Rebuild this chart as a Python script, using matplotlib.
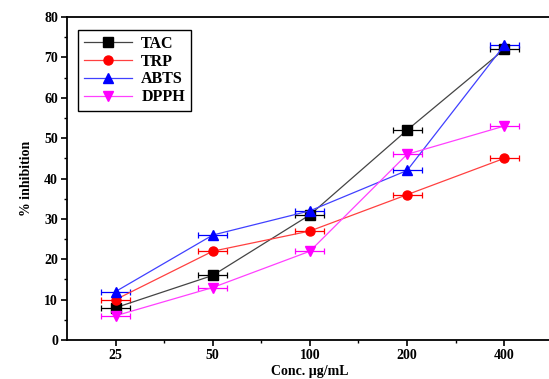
import matplotlib
matplotlib.use("Agg")
import matplotlib.pyplot as plt
from matplotlib.ticker import MultipleLocator, FixedLocator
from matplotlib.lines import Line2D

conc_labels = ["25", "50", "100", "200", "400"]
tac = [8, 16, 31, 52, 72]
trp = [10, 22, 27, 36, 45]
abts = [12, 26, 32, 42, 73]
dpph = [6, 13, 22, 46, 53]
xerr = 0.15

plt.rcParams['font.family'] = ['Liberation Serif', 'DejaVu Serif']
plt.rcParams['font.weight'] = 'bold'

fig = plt.figure(figsize=(5.49, 3.79), dpi=100)
ax = fig.add_axes([0.122, 0.1029, 0.885, 0.852])

x = list(range(1, len(conc_labels) + 1))
series = [
    ("TAC", tac, "#444444", "black", "s"),
    ("TRP", trp, "#ff4040", "red", "o"),
    ("ABTS", abts, "#4040ff", "blue", "^"),
    ("DPPH", dpph, "#ff40ff", "magenta", "v"),
]
handles = []
for name, vals, lc, mc, m in series:
    ax.errorbar(x, vals, xerr=xerr, color=lc, lw=0.9, marker=m, ms=6.5,
                mfc=mc, mec=mc, ecolor=mc, elinewidth=0.9, capsize=2.5,
                capthick=0.9)
    handles.append(Line2D([], [], color=lc, lw=0.9, marker=m, ms=6.5,
                          mfc=mc, mec=mc, label=name))

ax.set_xlim(0.5, 5.5)
ax.set_ylim(0, 80)
ax.xaxis.set_major_locator(FixedLocator(x))
ax.set_xticklabels(conc_labels)
ax.xaxis.set_minor_locator(FixedLocator([1.5, 2.5, 3.5, 4.5]))
ax.yaxis.set_major_locator(MultipleLocator(10))
ax.yaxis.set_minor_locator(MultipleLocator(5))
ax.tick_params(axis='both', which='major', direction='out', length=4, width=1.2,
               labelsize=10, pad=2.5)
ax.tick_params(axis='both', which='minor', direction='out', length=2.5, width=1.0)
for lab in ax.get_xticklabels() + ax.get_yticklabels():
    lab.set_fontweight('bold')
for sp in ax.spines.values():
    sp.set_linewidth(1.3)

ax.set_xlabel("Conc. µg/mL", fontsize=10, fontweight='bold', labelpad=2)
ax.set_ylabel("% inhibition", fontsize=10, fontweight='bold', labelpad=8)

leg = ax.legend(handles=handles, loc='upper left', bbox_to_anchor=(0.023, 0.96),
                borderaxespad=0,
                fancybox=False, edgecolor='black', framealpha=1,
                prop={'weight': 'bold', 'size': 11.5},
                handlelength=3.0, labelspacing=0.12, borderpad=0.35,
                handletextpad=0.6)
leg.get_frame().set_linewidth(1.0)

fig.savefig("out.png", dpi=100)
